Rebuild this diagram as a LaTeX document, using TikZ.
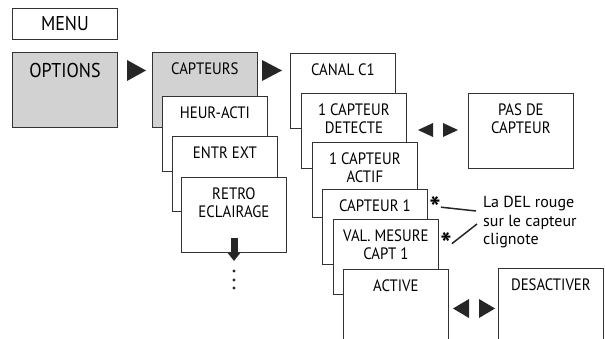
\documentclass[tikz,border=0pt]{standalone}
\usepackage{fontspec}
\setmainfont{PT Sans}[FakeStretch=0.9]
\newfontfamily\notefont{PT Sans}
\usetikzlibrary{positioning}
\usetikzlibrary{arrows.meta}
\tikzset{
    screen/.style = {rectangle, draw=black!80, line width=0.8pt, fill=white, minimum width=105pt, minimum height=75pt, anchor=north west, inner sep=0pt},
    screeng/.style = {screen, fill=gray!35},
    menubox/.style = {rectangle, draw=black!80, line width=0.8pt, minimum width=105pt, minimum height=31pt, anchor=north west, font=\fontsize{20}{22}\selectfont},
    boxtext/.style = {anchor=north, align=center, font=\fontsize{16.5}{18}\selectfont, inner sep=0pt, yshift=-11pt},
    bigtext/.style = {anchor=north, align=center, font=\fontsize{20}{22}\selectfont, inner sep=0pt, yshift=-11pt},
    tri/.style = {fill=black!85},
    notetext/.style = {anchor=north west, align=left, inner sep=0pt, font=\notefont\fontsize{16}{18.5}\selectfont},
    startext/.style = {anchor=north, inner sep=0pt, font=\notefont\bfseries\fontsize{30}{30}\selectfont},
    edgen/.style = {-, line width=1.5pt, black!85},
    downarrow/.style = {line width=7pt, black!85, -{Triangle[length=8pt, width=12pt]}}
}
\begin{document}
\begin{tikzpicture}[x=1pt,y=-1pt]
\useasboundingbox (0,0) rectangle (605,339);
\clip (0,0) rectangle (605,339);

%
\node[menubox] at (12,8) (menu) {MENU};
\node[screeng, label={[bigtext]north:OPTIONS}] at (12,52) (options) {};
\node[screeng, label={[boxtext]north:CAPTEURS}] at (152,52) (capteurs) {};
\node[screen, label={[boxtext]north:HEUR-ACTI}] at (162,96) (heur) {};
\node[screen, label={[boxtext]north:ENTR EXT}] at (172,136) (entr) {};
\node[screen, label={[boxtext]north:{RETRO\\ECLAIRAGE}}] at (181,177) (retro) {};
%
\node[screen, label={[boxtext]north:CANAL C1}] at (290,53) (canal) {};
\node[screen, label={[boxtext]north:{1 CAPTEUR\\DETECTE}}] at (301,93) (detecte) {};
\node[screen, label={[boxtext]north:{1 CAPTEUR\\ACTIF}}] at (312,142) (actif) {};
\node[screen, label={[boxtext]north:CAPTEUR 1}] at (322,189) (capt) {};
\node[screen, label={[boxtext]north:{VAL. MESURE\\CAPT 1}}] at (333,219) (valmes) {};
\node[screen, label={[boxtext]north:ACTIVE}] at (343,269) (active) {};
%
\node[screen, label={[boxtext]north:{PAS DE\\CAPTEUR}}] at (468,93) (pasde) {};
\node[screen, label={[boxtext]north:DESACTIVER}] at (498,268) (desact) {};

% triangles
\fill[tri] (127,60) -- (146,70.5) -- (127,81) -- cycle;
\fill[tri] (262,60) -- (282,70.5) -- (262,81) -- cycle;
\fill[tri] (433,123) -- (418,130) -- (433,137) -- cycle;
\fill[tri] (443,123) -- (458,130) -- (443,137) -- cycle;
\fill[tri] (469,299) -- (453,308.5) -- (469,318) -- cycle;
\fill[tri] (479,299) -- (495,308.5) -- (479,318) -- cycle;

% note
\node[notetext] at (483,196) (note) {La DEL rouge\\sur le capteur\\clignote};
\node[startext] at (435,196) (star1) {*};
\node[startext] at (446,232.5) (star2) {*};
\coordinate (n1) at (476,211);
\coordinate (n2) at (477,224);
\draw[edgen] (star1.east) -- (n1);
\draw[edgen] (star2.east) -- (n2);

% down
\coordinate (d1) at (234,238);
\coordinate (d2) at (234,261);
\draw[downarrow] (d1) -- (d2);
\foreach \y in {271,280,288} {
  \fill[black!85] (234,\y) circle (1.6pt);
}

\end{tikzpicture}
\end{document}
